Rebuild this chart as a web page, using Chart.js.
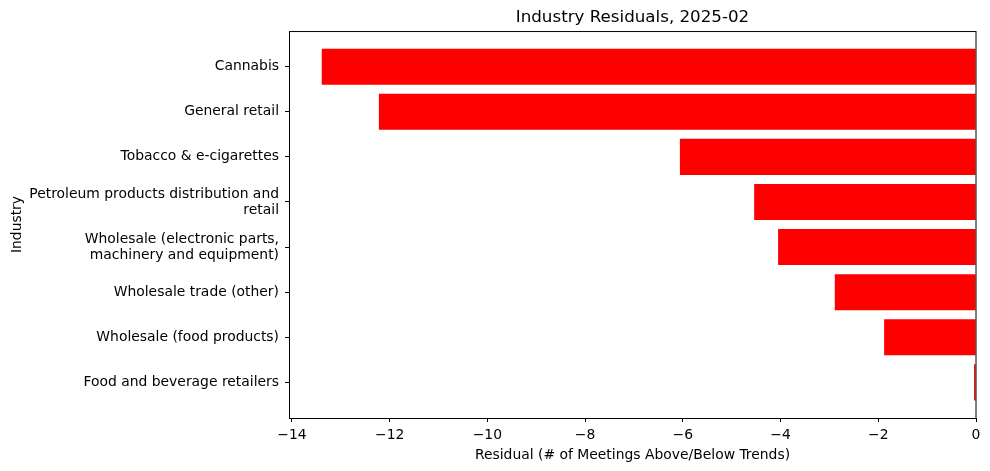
<!DOCTYPE html>
<html>
<head>
<meta charset="utf-8">
<script src="https://cdn.jsdelivr.net/npm/chart.js@4.4.0/dist/chart.umd.min.js"></script>
<style>
  html, body { margin: 0; padding: 0; background: #fff; }
  #wrap { width: 990px; height: 471px; }
</style>
</head>
<body>
<div id="wrap"><canvas id="residualchart"></canvas></div>
<script>
// Industries, top to bottom (multi-line labels as arrays)
var industries = [
  "Cannabis",
  "General retail",
  "Tobacco & e-cigarettes",
  ["Petroleum products distribution and", "retail"],
  ["Wholesale (electronic parts,", "machinery and equipment)"],
  "Wholesale trade (other)",
  "Wholesale (food products)",
  "Food and beverage retailers"
];
// Residuals
var residuals = [-13.39, -12.22, -6.06, -4.54, -4.05, -2.89, -1.88, -0.04];
var xTicks = [-14, -12, -10, -8, -6, -4, -2, 0];

var FONT = "'DejaVu Sans', sans-serif";
Chart.defaults.font.family = FONT;
Chart.defaults.color = "#000";

var barData = residuals.map(function (v, i) {
  return { x: v, y: i };
});

// draw the full axes frame like matplotlib
var frameBox = {
  id: "frameBox",
  afterDraw: function (chart) {
    var a = chart.chartArea;
    var ctx = chart.ctx;
    ctx.save();
    ctx.strokeStyle = "#000";
    ctx.lineWidth = 1;
    ctx.strokeRect(a.left + 0.5, a.top + 0.5, a.right - a.left - 0.5, a.bottom - a.top);
    ctx.restore();
  }
};

var ctx = document.getElementById("residualchart").getContext("2d");
var myChart = new Chart(ctx, {
  type: "bar",
  data: {
    datasets: [
      {
        label: "Residual",
        data: barData,
        backgroundColor: "#ff0000",
        borderWidth: 0,
        categoryPercentage: 1,
        barPercentage: 0.8
      }
    ]
  },
  options: {
    indexAxis: "y",
    responsive: true,
    maintainAspectRatio: false,
    animation: false,
    layout: { padding: { right: 14, top: 0, bottom: 0, left: 0 } },
    scales: {
      x: {
        type: "linear",
        min: -14.06,
        max: 0,
        afterBuildTicks: function (scale) {
          scale.ticks = xTicks.map(function (v) { return { value: v }; });
        },
        afterFit: function (scale) {
          scale.height = 53;
        },
        grid: {
          drawOnChartArea: false,
          drawTicks: true,
          tickLength: 4,
          tickColor: "#000"
        },
        border: { display: true, color: "#000" },
        ticks: {
          font: { size: 13.9 },
          padding: 5,
          maxRotation: 0,
          callback: function (v) {
            return v < 0 ? "\u2212" + Math.abs(v) : String(v);
          }
        },
        title: {
          display: true,
          text: "Residual (# of Meetings Above/Below Trends)",
          font: { size: 13.9 },
          padding: { top: 2, bottom: 7 }
        }
      },
      y: {
        type: "linear",
        reverse: true,
        offset: false,
        min: -0.79,
        max: 7.79,
        afterBuildTicks: function (scale) {
          scale.ticks = industries.map(function (_, i) { return { value: i }; });
        },
        afterFit: function (scale) {
          scale.width = 289;
        },
        grid: {
          offset: false,
          drawOnChartArea: false,
          drawTicks: true,
          tickLength: 4,
          tickColor: "#000"
        },
        border: { display: true, color: "#000" },
        ticks: {
          font: { size: 13.9, lineHeight: 1.15 },
          padding: 6,
          callback: function (v) {
            return industries[v];
          }
        },
        title: {
          display: true,
          text: "Industry",
          font: { size: 13.9 },
          padding: { top: 9, bottom: 0 }
        }
      }
    },
    plugins: {
      legend: { display: false },
      tooltip: { enabled: false },
      title: {
        display: true,
        fullSize: false,
        text: "Industry Residuals, 2025-02",
        font: { size: 16.7, weight: "normal" },
        color: "#000",
        padding: { top: 8, bottom: 3 }
      }
    }
  },
  plugins: [frameBox]
});
</script>
</body>
</html>
